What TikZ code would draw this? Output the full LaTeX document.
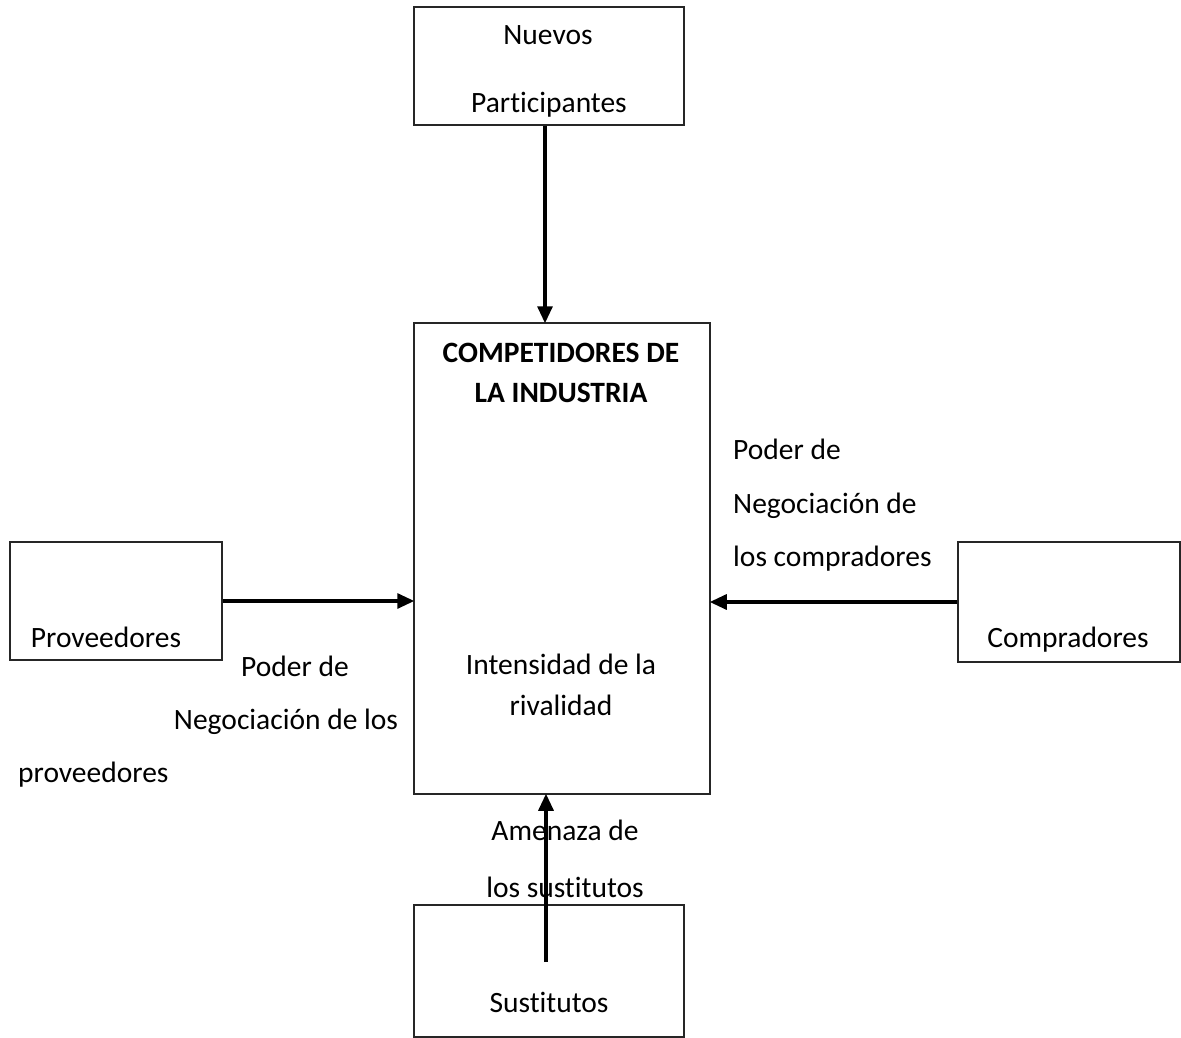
\documentclass[tikz,border=0pt]{standalone}
\usepackage{fontspec}
\setmainfont[Ligatures=NoCommon]{Carlito}
\usetikzlibrary{arrows.meta}
\begin{document}
\begin{tikzpicture}[x=1pt,y=-1pt,
  box/.style={draw=black!85, line width=1.5pt, rectangle, inner sep=0pt},
  lbl/.style={anchor=base, inner sep=0pt, font=\fontsize{29.5}{34}\selectfont},
  lbll/.style={anchor=base west, inner sep=0pt, font=\fontsize{29.5}{34}\selectfont},
  arr/.style={line width=3.2pt, -{Triangle[length=17pt,width=15pt]}, shorten >=-1pt}]
\useasboundingbox (0,0) rectangle (1181,1038);
% boxes
\node[box, minimum width=270pt, minimum height=118pt] (nuevos) at (549,66) {};
\node[box, minimum width=296pt, minimum height=471pt] (comp) at (562,558.5) {};
\node[box, minimum width=270pt, minimum height=132pt] (sust) at (549,971) {};
\node[box, minimum width=212pt, minimum height=118pt] (prov) at (116,601) {};
\node[box, minimum width=222pt, minimum height=120pt] (compr) at (1069,602) {};
% texts
\node[lbl] (t1) at (548,45) {Nuevos};
\node[lbl] (t2) at (549,113) {Participantes};
\node[lbl, font=\fontsize{29.5}{34}\selectfont\bfseries] (t3) at (561,362) {COMPETIDORES DE};
\node[lbl, font=\fontsize{29.5}{34}\selectfont\bfseries] (t4) at (561,402) {LA INDUSTRIA};
\node[lbl] (t5) at (561,674) {Intensidad de la};
\node[lbl] (t6) at (561,715) {rivalidad};
\node[lbll] (t7) at (733,459) {Poder de};
\node[lbll] (t8) at (733,513) {Negociación de};
\node[lbll] (t9) at (733,566) {los compradores};
\node[lbl] (t10) at (106,647) {Proveedores};
\node[lbl] (t11) at (295,676) {Poder de};
\node[lbl] (t12) at (286,729) {Negociación de los};
\node[lbll] (t13) at (18,782) {proveedores};
\node[lbl] (t14) at (1068,647) {Compradores};
\node[lbl] (t15) at (565,840) {Amenaza de};
\node[lbl] (t16) at (565,897) {los sustitutos};
\node[lbl] (t17) at (549,1012) {Sustitutos};
% connectors
\coordinate (ax) at (545,0);
\coordinate (sx) at (546,962);
\draw[arr] (nuevos.south -| ax) -- (comp.north -| ax);
\draw[arr] (sx) -- (comp.south -| sx);
\draw[arr] (prov.east) -- (comp.west |- prov.east);
\draw[arr] (compr.west) -- (comp.east |- compr.west);
\end{tikzpicture}
\end{document}
